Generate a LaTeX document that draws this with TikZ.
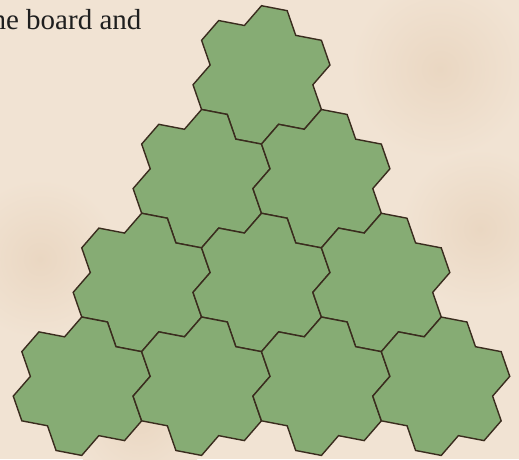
\documentclass[tikz,border=0pt]{standalone}
\usepackage{fontspec}
\setmainfont{Liberation Serif}
\usepackage{tikz}

\definecolor{paper}{RGB}{241,227,211}
\definecolor{blot}{RGB}{234,215,194}
\definecolor{felt}{RGB}{134,172,116}
\definecolor{edge}{RGB}{58,44,30}

\begin{document}
\begin{tikzpicture}[
        x=1pt, y=1pt,
        tile/.style={fill=felt, draw=edge, line width=1.4pt, line join=miter},
        stain/.style={inner color=blot, outer color=paper},
        caption/.style={anchor=base west, inner sep=0pt, text=black!88, font=\fontsize{29}{34}\selectfont}
    ]
        \useasboundingbox (0,0) rectangle (519,459);
        \fill[paper] (0,0) rectangle (519,459);
        % faint marks on the paper
        \shade[stain] (440,390) circle (90);
        \shade[stain] (480,230) circle (80);
        \shade[stain] (40,200) circle (80);
        \shade[stain] (140,40) circle (70);

        \node[caption] (intro) at (-8.6,429.7) {he board and};

        % ten flower tiles, four rows
        \foreach \r in {0,...,3} {
            \foreach \c in {0,...,\r} {
                \coordinate (t\r\c) at ({261.5+(\c-\r/2)*119.84}, {384.1-\r*103.78});
                \draw[tile, shift={(t\r\c)}] (90:69.19)
                    \foreach \k in {0,...,5} { -- (109.11+60*\k:52.3) -- (128.21+60*\k:69.19) -- (150+60*\k:69.19) }
                    -- cycle;
            }
        }
    \end{tikzpicture}
\end{document}
